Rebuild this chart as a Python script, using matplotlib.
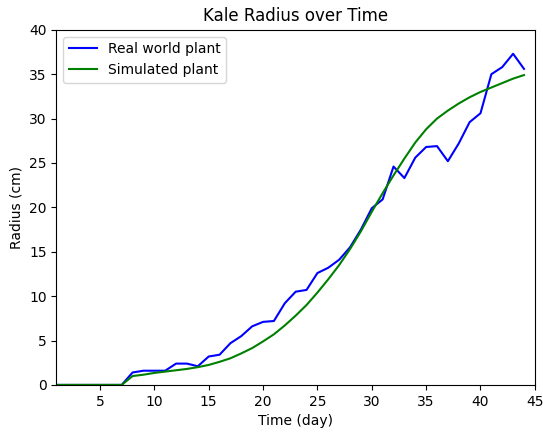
import matplotlib
matplotlib.use("Agg")
import matplotlib.pyplot as plt

days = list(range(1, 45))
real_radius = [0, 0, 0, 0, 0, 0, 0, 1.4, 1.6, 1.6, 1.6, 2.4, 2.4, 2.1, 3.2, 3.4, 4.7, 5.5, 6.6, 7.1,
               7.2, 9.2, 10.5, 10.7, 12.6, 13.2, 14.1, 15.5, 17.5, 19.9, 20.9, 24.6, 23.3, 25.6, 26.8, 26.9,
               25.2, 27.2, 29.6, 30.6, 35.0, 35.8, 37.3, 35.6]
sim_radius = [0, 0, 0, 0, 0, 0, 0, 1.0, 1.15, 1.35, 1.5, 1.65, 1.8, 2.0, 2.25, 2.6, 3.0, 3.55, 4.15, 4.9,
              5.7, 6.7, 7.8, 9.0, 10.4, 11.9, 13.5, 15.3, 17.3, 19.5, 21.6, 23.6, 25.5, 27.3, 28.8, 30.0,
              30.9, 31.7, 32.4, 33.0, 33.5, 34.0, 34.5, 34.9]
xticks = [5, 10, 15, 20, 25, 30, 35, 40, 45]
yticks = [0, 5, 10, 15, 20, 25, 30, 35, 40]

fig = plt.figure(figsize=(5.43, 4.32), dpi=100)
ax = fig.add_axes([0.104, 0.109, 0.881, 0.822])
ax.plot(days, real_radius, color="blue", label="Real world plant")
ax.plot(days, sim_radius, color="green", label="Simulated plant")
ax.set_xlim(1, 45)
ax.set_ylim(0, 40)
ax.set_xticks(xticks)
ax.set_yticks(yticks)
ax.set_title("Kale Radius over Time")
ax.set_xlabel("Time (day)")
ax.set_ylabel("Radius (cm)")
ax.legend(loc="upper left")
fig.savefig("out.png", dpi=100)
